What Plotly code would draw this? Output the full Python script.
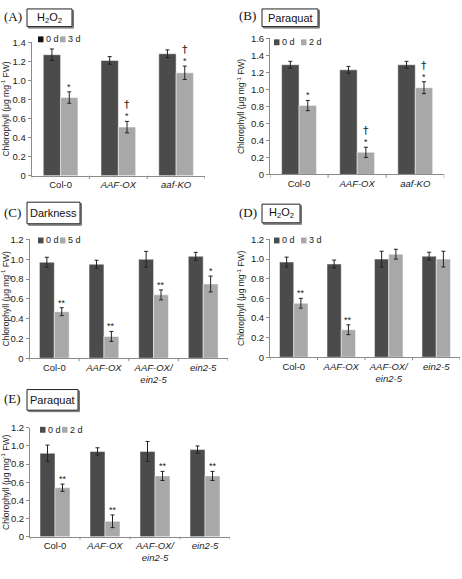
import plotly.graph_objects as go

W, H = 462, 579

# ---------------- data ----------------
cats3 = ["Col-0", "AAF-OX", "aaf-KO"]
cats4 = ["Col-0", "AAF-OX", "AAF-OX/ein2-5", "ein2-5"]
ticktext3 = ["Col-0", "<i>AAF-OX</i>", "<i>aaf-KO</i>"]
ticktext4 = ["Col-0", "<i>AAF-OX</i>", "<i>AAF-OX/<br>ein2-5</i>", "<i>ein2-5</i>"]

# (A) H2O2
a_ctrl = [1.27, 1.21, 1.28]
a_ctrl_err = [0.06, 0.04, 0.04]
a_trt = [0.82, 0.51, 1.08]
a_trt_err = [0.06, 0.06, 0.07]
a_star = ["*", "*", "*"]
a_dagger = [False, True, True]

# (B) Paraquat
b_ctrl = [1.29, 1.23, 1.29]
b_ctrl_err = [0.04, 0.04, 0.04]
b_trt = [0.81, 0.26, 1.02]
b_trt_err = [0.06, 0.06, 0.07]
b_star = ["*", "*", "*"]
b_dagger = [False, True, True]

# (C) Darkness
c_ctrl = [0.97, 0.95, 1.00, 1.03]
c_ctrl_err = [0.05, 0.04, 0.08, 0.04]
c_trt = [0.47, 0.22, 0.64, 0.75]
c_trt_err = [0.04, 0.05, 0.05, 0.08]
c_star = ["**", "**", "**", "*"]
c_dagger = [False, False, False, False]

# (D) H2O2
d_ctrl = [0.97, 0.95, 1.00, 1.03]
d_ctrl_err = [0.05, 0.04, 0.08, 0.04]
d_trt = [0.55, 0.28, 1.05, 1.00]
d_trt_err = [0.05, 0.05, 0.05, 0.08]
d_star = ["**", "**", "", ""]
d_dagger = [False, False, False, False]

# (E) Paraquat
e_ctrl = [0.92, 0.94, 0.94, 0.96]
e_ctrl_err = [0.09, 0.04, 0.11, 0.04]
e_trt = [0.54, 0.17, 0.67, 0.67]
e_trt_err = [0.04, 0.07, 0.05, 0.05]
e_star = ["**", "**", "**", "**"]
e_dagger = [False, False, False, False]

ytick_vals_14 = [0, 0.2, 0.4, 0.6, 0.8, 1.0, 1.2, 1.4]
ytick_text_14 = ["0", "0.2", "0.4", "0.6", "0.8", "1.0", "1.2", "1.4"]
ytick_vals_16 = [0, 0.2, 0.4, 0.6, 0.8, 1.0, 1.2, 1.4, 1.6]
ytick_text_16 = ["0", "0.2", "0.4", "0.6", "0.8", "1.0", "1.2", "1.4", "1.6"]
ytick_vals_12 = [0, 0.2, 0.4, 0.6, 0.8, 1.0, 1.2]
ytick_text_12 = ["0", "0.2", "0.4", "0.6", "0.8", "1.0", "1.2"]

DARK = "#4b4b4b"
LIGHT = "#a8a8a8"
AXC = "#8c8c8c"
SANS = "Liberation Sans, Arial, sans-serif"
SERIF = "Liberation Serif, Times New Roman, serif"


def px(x):
    return x / W


def py(y):
    return 1 - y / H


panels = [
    dict(letter="(A)", title="H<sub>2</sub>O<sub>2</sub>", cats=cats3, tt=ticktext3,
         ctrl=a_ctrl, ctrl_err=a_ctrl_err, trt=a_trt, trt_err=a_trt_err,
         star=a_star, dagger=a_dagger, lab=["0 d", "3 d"],
         yv=ytick_vals_14, yt=ytick_text_14, ymax=1.4,
         xd=(31.7, 205), yd=(173, 37), lx=2, ly=11, box=(27, 72, 3, 21),
         leg=(38, 34, 22), sw1="#111111"),
    dict(letter="(B)", title="Paraquat", cats=cats3, tt=ticktext3,
         ctrl=b_ctrl, ctrl_err=b_ctrl_err, trt=b_trt, trt_err=b_trt_err,
         star=b_star, dagger=b_dagger, lab=["0 d", "2 d"],
         yv=ytick_vals_16, yt=ytick_text_16, ymax=1.6,
         xd=(270, 444.3), yd=(171.7, 33), lx=237, ly=10, box=(262, 318, 3, 21),
         leg=(274, 37, 27), sw1=DARK),
    dict(letter="(C)", title="Darkness", cats=cats4, tt=ticktext4,
         ctrl=c_ctrl, ctrl_err=c_ctrl_err, trt=c_trt, trt_err=c_trt_err,
         star=c_star, dagger=c_dagger, lab=["0 d", "5 d"],
         yv=ytick_vals_12, yt=ytick_text_12, ymax=1.2,
         xd=(29.5, 228), yd=(359, 238), lx=2, ly=211, box=(27, 80, 200, 222),
         leg=(38, 239, 22), sw1=DARK),
    dict(letter="(D)", title="H<sub>2</sub>O<sub>2</sub>", cats=cats4, tt=ticktext4,
         ctrl=d_ctrl, ctrl_err=d_ctrl_err, trt=d_trt, trt_err=d_trt_err,
         star=d_star, dagger=d_dagger, lab=["0 d", "3 d"],
         yv=ytick_vals_12, yt=ytick_text_12, ymax=1.2,
         xd=(270, 460), yd=(358, 238), lx=237, ly=211, box=(262, 300, 202, 221),
         leg=(274, 239, 27), sw1=DARK),
    dict(letter="(E)", title="Paraquat", cats=cats4, tt=ticktext4,
         ctrl=e_ctrl, ctrl_err=e_ctrl_err, trt=e_trt, trt_err=e_trt_err,
         star=e_star, dagger=e_dagger, lab=["0 d", "2 d"],
         yv=ytick_vals_12, yt=ytick_text_12, ymax=1.2,
         xd=(30, 230), yd=(541, 430), lx=2, ly=400, box=(27, 78, 391, 412),
         leg=(40, 432, 22), sw1=DARK),
]

fig = go.Figure()
layout = dict(
    width=W, height=H, margin=dict(l=0, r=0, t=0, b=0),
    paper_bgcolor="white", plot_bgcolor="white",
    showlegend=False, barmode="group", bargap=0.4, bargroupgap=0,
    font=dict(family=SANS, size=9, color="#222"),
)
annotations = []
shapes = []

for i, p in enumerate(panels, start=1):
    xa = "x" if i == 1 else f"x{i}"
    ya = "y" if i == 1 else f"y{i}"
    n = len(p["cats"])
    idx = list(range(n))
    fig.add_trace(go.Bar(
        x=idx, y=p["ctrl"], xaxis=xa, yaxis=ya, marker=dict(color=DARK, line=dict(color="white", width=0.5)),
        error_y=dict(type="data", array=p["ctrl_err"], color="#222", thickness=1, width=2)))
    fig.add_trace(go.Bar(
        x=idx, y=p["trt"], xaxis=xa, yaxis=ya, marker=dict(color=LIGHT, line=dict(color="white", width=0.5)),
        error_y=dict(type="data", array=p["trt_err"], color="#222", thickness=1, width=2)))

    ykey = "yaxis" if i == 1 else f"yaxis{i}"
    xkey = "xaxis" if i == 1 else f"xaxis{i}"
    layout[xkey] = dict(
        domain=[px(p["xd"][0]), px(p["xd"][1])], anchor=ya,
        range=[-0.5, n - 0.5], tickvals=idx, ticktext=p["tt"],
        showline=True, linecolor=AXC, linewidth=1, ticks="", showgrid=False,
        zeroline=False, tickfont=dict(size=9.5, family=SANS, color="#222"),
    )
    layout[ykey] = dict(
        domain=[py(p["yd"][0]), py(p["yd"][1])], anchor=xa,
        range=[0, p["ymax"]], tickvals=p["yv"], ticktext=p["yt"],
        showline=True, linecolor=AXC, linewidth=1, ticks="outside", ticklen=3,
        tickcolor=AXC, showgrid=False, zeroline=False,
        tickfont=dict(size=9.5, family=SANS, color="#222"),
        title=dict(text="Chlorophyll (μg mg<sup>-1</sup> FW)", font=dict(size=8.5, family=SANS, color="#222"), standoff=4),
    )
    # category boundary ticks
    for b in range(n + 1):
        shapes.append(dict(type="line", xref=xa, yref=f"{ya} domain",
                           x0=b - 0.5, x1=b - 0.5, y0=0, y1=-0.025,
                           line=dict(color=AXC, width=1)))

    # significance markers
    for k in idx:
        top = p["trt"][k] + p["trt_err"][k]
        xpos = k + 0.15
        if p["star"][k]:
            annotations.append(dict(x=xpos, y=top, xref=xa, yref=ya, text=p["star"][k],
                                    showarrow=False, yanchor="bottom", yshift=-2,
                                    font=dict(size=9, family=SANS, color="#222")))
        if p["dagger"][k]:
            annotations.append(dict(x=xpos, y=top, xref=xa, yref=ya, text="†",
                                    showarrow=False, yanchor="bottom", yshift=8,
                                    font=dict(size=11, family="DejaVu Sans", color="#222")))

    # panel letter
    annotations.append(dict(x=px(p["lx"]), y=py(p["ly"]), xref="paper", yref="paper",
                            text=p["letter"], showarrow=False, xanchor="left", yanchor="middle",
                            font=dict(size=13, family=SERIF, color="#111")))
    # boxed title
    bx0, bx1, by0, by1 = p["box"]
    shapes.append(dict(type="rect", xref="paper", yref="paper",
                       x0=px(bx0 + 1.5), x1=px(bx1 + 1.5), y0=py(by1 + 1.5), y1=py(by0 + 1.5),
                       line=dict(color="#777", width=1), fillcolor="#999"))
    shapes.append(dict(type="rect", xref="paper", yref="paper",
                       x0=px(bx0), x1=px(bx1), y0=py(by1), y1=py(by0),
                       line=dict(color="#222", width=1), fillcolor="white"))
    annotations.append(dict(x=px((bx0 + bx1) / 2), y=py((by0 + by1) / 2), xref="paper", yref="paper",
                            text=p["title"], showarrow=False, xanchor="center", yanchor="middle",
                            font=dict(size=11, family=SANS, color="#111")))
    # legend
    lx0, lyc, gap = p["leg"]
    for j, (col, lab) in enumerate([(p["sw1"], p["lab"][0]), (LIGHT, p["lab"][1])]):
        sx = lx0 + j * gap
        shapes.append(dict(type="rect", xref="paper", yref="paper",
                           x0=px(sx), x1=px(sx + 5.5), y0=py(lyc + 3), y1=py(lyc - 3),
                           line=dict(width=0), fillcolor=col))
        annotations.append(dict(x=px(sx + 6), y=py(lyc), xref="paper", yref="paper",
                                text=lab, showarrow=False, xanchor="left", yanchor="middle",
                                font=dict(size=9, family=SANS, color="#222")))

layout["annotations"] = annotations
layout["shapes"] = shapes
fig.update_layout(**layout)
fig.write_html("out.html", config={"displayModeBar": False},
               post_script="document.body.style.margin='0';document.body.style.padding='0';")
